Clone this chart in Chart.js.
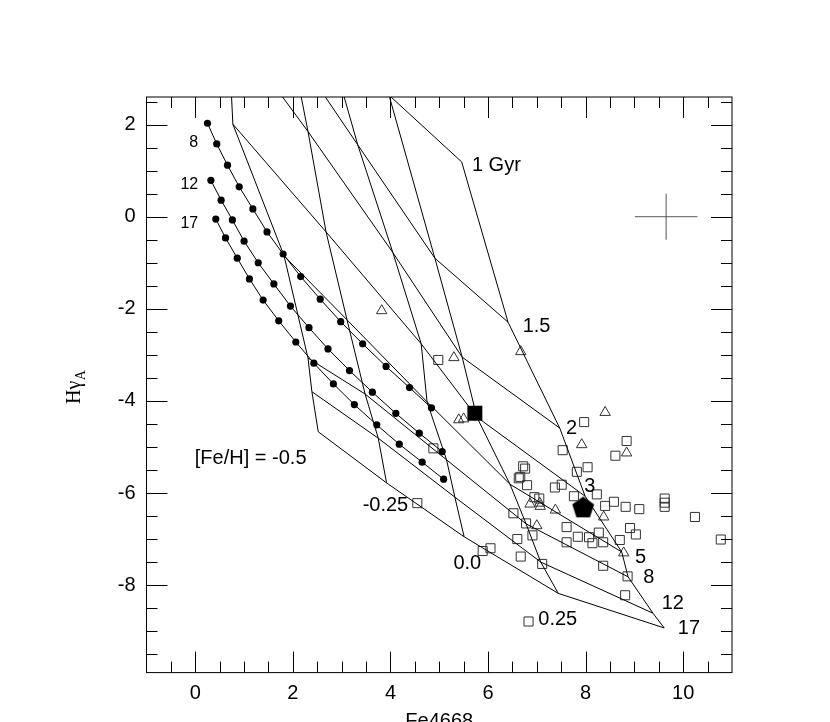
<!DOCTYPE html>
<html>
<head>
<meta charset="utf-8">
<script src="https://cdn.jsdelivr.net/npm/chart.js@4.4.0/dist/chart.umd.min.js"></script>
<style>
  html, body { margin: 0; padding: 0; background: #fff; }
  #wrap { width: 830px; height: 722px; }
</style>
</head>
<body>
<div id="wrap"><canvas id="c" width="830" height="722"></canvas></div>
<script>
// model grid, one array per [Fe/H]; entries follow AGES
const AGES = ['1', '1.5', '2', '3', '5', '8', '12', '17'];
const FEH = ['-0.5', '-0.25', '0.0', '0.25', '0.5'];

const FE_M050_X = [0.20, 0.47, 0.67, 0.77, 1.82, 2.31, 2.39, 2.52];
const FE_M050_Y = [7.96, 5.58, 4.21, 2.01, -0.85, -3.07, -3.80, -4.67];
const FE_M025_X = [1.53, 1.97, 2.31, 2.68, 3.11, 3.48, 3.75, 3.92];
const FE_M025_Y = [6.44, 3.69, 1.85, -0.33, -2.24, -3.85, -4.81, -5.78];
const FE_P000_X = [2.43, 3.33, 4.05, 4.63, 4.75, 5.15, 5.32, 5.51];
const FE_P000_Y = [4.92, 1.56, -0.78, -2.76, -4.02, -5.28, -6.09, -6.95];
const FE_P025_X = [3.97, 4.91, 5.47, 5.77, 6.45, 6.78, 7.08, 7.44];
const FE_P025_Y = [2.64, -0.90, -3.05, -4.35, -5.81, -6.67, -7.50, -8.18];
const FE_P050_X = [5.46, 6.41, 7.47, 7.99, 8.74, 8.87, 9.38, 9.61];
const FE_P050_Y = [1.19, -2.29, -4.59, -6.07, -7.28, -7.82, -8.61, -8.93];

// older tracks (dots) for 8, 12, 17 Gyr
const TRACK_NAMES = ['8', '12', '17'];
const TRACK8_X = [0.25, 0.44, 0.66, 0.90, 1.18, 1.47, 1.80, 2.16, 2.56, 2.98, 3.43, 3.91, 4.39, 4.84];
const TRACK8_Y = [2.03, 1.58, 1.12, 0.65, 0.17, -0.33, -0.81, -1.30, -1.79, -2.28, -2.76, -3.25, -3.71, -4.15];
const TRACK12_X = [0.32, 0.53, 0.76, 1.00, 1.29, 1.61, 1.95, 2.33, 2.72, 3.16, 3.63, 4.11, 4.59, 5.06];
const TRACK12_Y = [0.79, 0.36, -0.07, -0.53, -1.00, -1.46, -1.94, -2.41, -2.87, -3.34, -3.81, -4.27, -4.70, -5.10];
const TRACK17_X = [0.42, 0.62, 0.86, 1.11, 1.39, 1.71, 2.06, 2.43, 2.83, 3.26, 3.72, 4.18, 4.65, 5.09];
const TRACK17_Y = [-0.05, -0.46, -0.90, -1.35, -1.81, -2.26, -2.72, -3.18, -3.63, -4.08, -4.52, -4.94, -5.33, -5.70];

// observed galaxies
const SQ_X = [7.97, 8.84, 7.53, 8.61, 7.82, 8.04, 6.72, 6.76, 6.63, 6.66, 6.80, 7.37, 7.51, 7.76, 8.23, 8.40, 8.58,
  8.82, 9.10, 9.62, 9.62, 9.62, 10.24, 10.77, 6.52, 6.78, 6.91, 6.60, 7.61, 8.27, 8.91, 9.03, 7.84, 8.07, 8.14,
  8.36, 8.70, 7.61, 6.67, 7.11, 8.36, 8.86, 8.81, 6.83, 5.89, 6.05, 4.98, 4.88, 4.55, 6.95, 7.05];
const SQ_Y = [-4.46, -4.87, -5.07, -5.19, -5.54, -5.44, -5.42, -5.47, -5.68, -5.65, -5.83, -5.88, -5.82, -6.07,
  -6.03, -6.28, -6.19, -6.30, -6.35, -6.12, -6.21, -6.30, -6.52, -7.01, -6.44, -6.66, -6.92, -7.00, -6.74, -6.86,
  -6.76, -6.90, -6.95, -6.96, -7.09, -7.07, -7.02, -7.07, -7.38, -7.54, -7.58, -7.81, -8.22, -8.79, -7.26, -7.20,
  -3.11, -5.03, -6.22, -6.09, -6.12];
const TRI_X = [8.40, 7.92, 8.84, 6.86, 7.06, 7.07, 7.38, 8.37, 7.00, 8.78, 6.67, 3.82, 5.30, 5.40, 5.50];
const TRI_Y = [-4.25, -4.95, -5.13, -6.24, -6.22, -6.29, -6.37, -6.52, -6.71, -7.30, -2.93, -2.04, -3.06, -4.41, -4.39];
const BIG_SQ = [5.73, -4.27];
const PENTA = [7.95, -6.30];
const ERR_X = [9.01, 10.29];
const ERR_Y = [-0.5, 0.5];
const ERR_AT = [9.65, 0];

const X_TICKS = [0, 2, 4, 6, 8, 10];
const Y_TICKS = [2, 0, -2, -4, -6, -8];

const SANS = '"Liberation Sans", Arial, Helvetica, sans-serif';

// text on the plot: [text, x, y, size, align]
const NOTES = [
  ['1 Gyr', 5.67, 1.12, 20, 'left'],
  ['1.5', 6.71, -2.39, 20, 'left'],
  ['2', 7.60, -4.59, 20, 'left'],
  ['3', 7.97, -5.85, 20, 'left'],
  ['5', 9.01, -7.39, 20, 'left'],
  ['8', 9.18, -7.84, 20, 'left'],
  ['12', 9.56, -8.39, 20, 'left'],
  ['17', 9.89, -8.95, 20, 'left'],
  ['0.25', 7.03, -8.74, 20, 'left'],
  ['0.0', 5.29, -7.54, 20, 'left'],
  ['-0.25', 3.43, -6.26, 20, 'left'],
  ['[Fe/H] = -0.5', -0.01, -5.25, 20, 'left'],
  ['8', 0.06, 1.62, 16, 'right'],
  ['12', 0.06, 0.69, 16, 'right'],
  ['17', 0.06, -0.16, 16, 'right']
];

const GX = [FE_M050_X, FE_M025_X, FE_P000_X, FE_P025_X, FE_P050_X];
const GY = [FE_M050_Y, FE_M025_Y, FE_P000_Y, FE_P025_Y, FE_P050_Y];

const pts = (xs, ys) => xs.map((v, i) => ({ x: v, y: ys[i] }));

function lineSet(data, extra) {
  return Object.assign({
    data, showLine: true, borderColor: '#000', borderWidth: 1,
    pointRadius: 0, fill: false, tension: 0
  }, extra || {});
}

function pentagon(r) {
  const c = document.createElement('canvas');
  const s = Math.ceil(2 * r + 2);
  c.width = s; c.height = s;
  const g = c.getContext('2d');
  g.fillStyle = '#000';
  g.beginPath();
  for (let i = 0; i < 5; i++) {
    const a = -Math.PI / 2 + i * 2 * Math.PI / 5;
    g.lineTo(s / 2 + r * Math.cos(a), s / 2 + r * Math.sin(a) + r * 0.1);
  }
  g.closePath();
  g.fill();
  return c;
}

const datasets = [];
// iso-[Fe/H] lines
FEH.forEach((f, i) => datasets.push(lineSet(pts(GX[i], GY[i]))));
// iso-age lines
AGES.forEach((a, j) => datasets.push(lineSet(FEH.map((f, i) => ({ x: GX[i][j], y: GY[i][j] })))));
// tracks with dots
[[TRACK8_X, TRACK8_Y], [TRACK12_X, TRACK12_Y], [TRACK17_X, TRACK17_Y]].forEach(t => {
  datasets.push(lineSet(pts(t[0], t[1]), { pointRadius: 3.6, pointBackgroundColor: '#000', pointBorderWidth: 0 }));
});
// typical error
datasets.push(lineSet([{ x: ERR_X[0], y: ERR_AT[1] }, { x: ERR_X[1], y: ERR_AT[1] }], { borderColor: '#555' }));
datasets.push(lineSet([{ x: ERR_AT[0], y: ERR_Y[0] }, { x: ERR_AT[0], y: ERR_Y[1] }], { borderColor: '#555' }));
// galaxies
datasets.push({
  data: pts(SQ_X, SQ_Y), showLine: false, pointStyle: 'rect', pointRadius: 6.4,
  borderColor: '#333', borderWidth: 1, backgroundColor: 'rgba(0,0,0,0)'
});
datasets.push({
  data: pts(TRI_X, TRI_Y), showLine: false, pointStyle: 'triangle', pointRadius: 6,
  borderColor: '#333', borderWidth: 1, backgroundColor: 'rgba(0,0,0,0)'
});
datasets.push({
  data: [{ x: BIG_SQ[0], y: BIG_SQ[1] }], showLine: false, pointStyle: 'rect', pointRadius: 10.6,
  borderColor: '#000', borderWidth: 0, backgroundColor: '#000'
});
datasets.push({
  data: [{ x: PENTA[0], y: PENTA[1] }], showLine: false, pointStyle: pentagon(11.5), pointRadius: 11
});

const frameTicks = {
  id: 'frameTicks',
  afterDatasetsDraw(chart) {
    const { ctx, chartArea: a, scales: { x, y } } = chart;
    ctx.save();
    ctx.strokeStyle = '#000';
    ctx.lineWidth = 1;
    ctx.strokeRect(a.left, a.top, a.right - a.left, a.bottom - a.top);
    ctx.beginPath();
    for (let v = -0.5; v <= 10.5; v += 0.5) {
      const len = v % 2 === 0 ? 21 : 11;
      const px = Math.round(x.getPixelForValue(v)) + 0.5;
      ctx.moveTo(px, a.bottom); ctx.lineTo(px, a.bottom - len);
      ctx.moveTo(px, a.top); ctx.lineTo(px, a.top + len);
    }
    for (let v = -9.5; v <= 2.5; v += 0.5) {
      const len = v % 2 === 0 ? 21 : 11;
      const py = Math.round(y.getPixelForValue(v)) + 0.5;
      ctx.moveTo(a.left, py); ctx.lineTo(a.left + len, py);
      ctx.moveTo(a.right, py); ctx.lineTo(a.right - len, py);
    }
    ctx.stroke();

    // notes on the plot
    ctx.fillStyle = '#000';
    ctx.textBaseline = 'middle';
    NOTES.forEach(n => {
      ctx.font = n[3] + 'px ' + SANS;
      ctx.textAlign = n[4];
      ctx.fillText(n[0], x.getPixelForValue(n[1]), y.getPixelForValue(n[2]));
    });

    // axis titles
    ctx.textAlign = 'center';
    ctx.textBaseline = 'alphabetic';
    ctx.font = '20px ' + SANS;
    ctx.fillText('Fe4668', (a.left + a.right) / 2, 727);

    ctx.translate(80, 404);
    ctx.rotate(-Math.PI / 2);
    ctx.textAlign = 'left';
    ctx.font = '20px "Liberation Serif", "Times New Roman", serif';
    ctx.fillText('H\u03b3', 0, 0);
    const w = ctx.measureText('H\u03b3').width;
    ctx.font = '14px "Liberation Serif", "Times New Roman", serif';
    ctx.fillText('A', w + 0.5, 5);
    ctx.restore();
  }
};

new Chart(document.getElementById('c'), {
  type: 'scatter',
  data: { datasets },
  options: {
    responsive: false,
    animation: false,
    events: [],
    layout: { padding: { left: 0, right: 98, top: 97, bottom: 0 } },
    plugins: { legend: { display: false }, tooltip: { enabled: false } },
    scales: {
      x: {
        type: 'linear', min: -1, max: 11,
        grid: { display: false, drawTicks: false },
        border: { display: false },
        ticks: { color: '#000', font: { size: 20, family: SANS }, padding: 9, maxRotation: 0, callback: v => String(v) },
        afterBuildTicks: s => { s.ticks = X_TICKS.map(v => ({ value: v })); },
        afterFit: s => { s.height = 49.4; }
      },
      y: {
        type: 'linear', min: -9.9, max: 2.6,
        grid: { display: false, drawTicks: false },
        border: { display: false },
        ticks: { color: '#000', font: { size: 20, family: SANS }, padding: 11, callback: v => String(v) },
        afterBuildTicks: s => { s.ticks = Y_TICKS.map(v => ({ value: v })); },
        afterFit: s => { s.width = 146.5; }
      }
    }
  },
  plugins: [frameTicks]
});
</script>
</body>
</html>
